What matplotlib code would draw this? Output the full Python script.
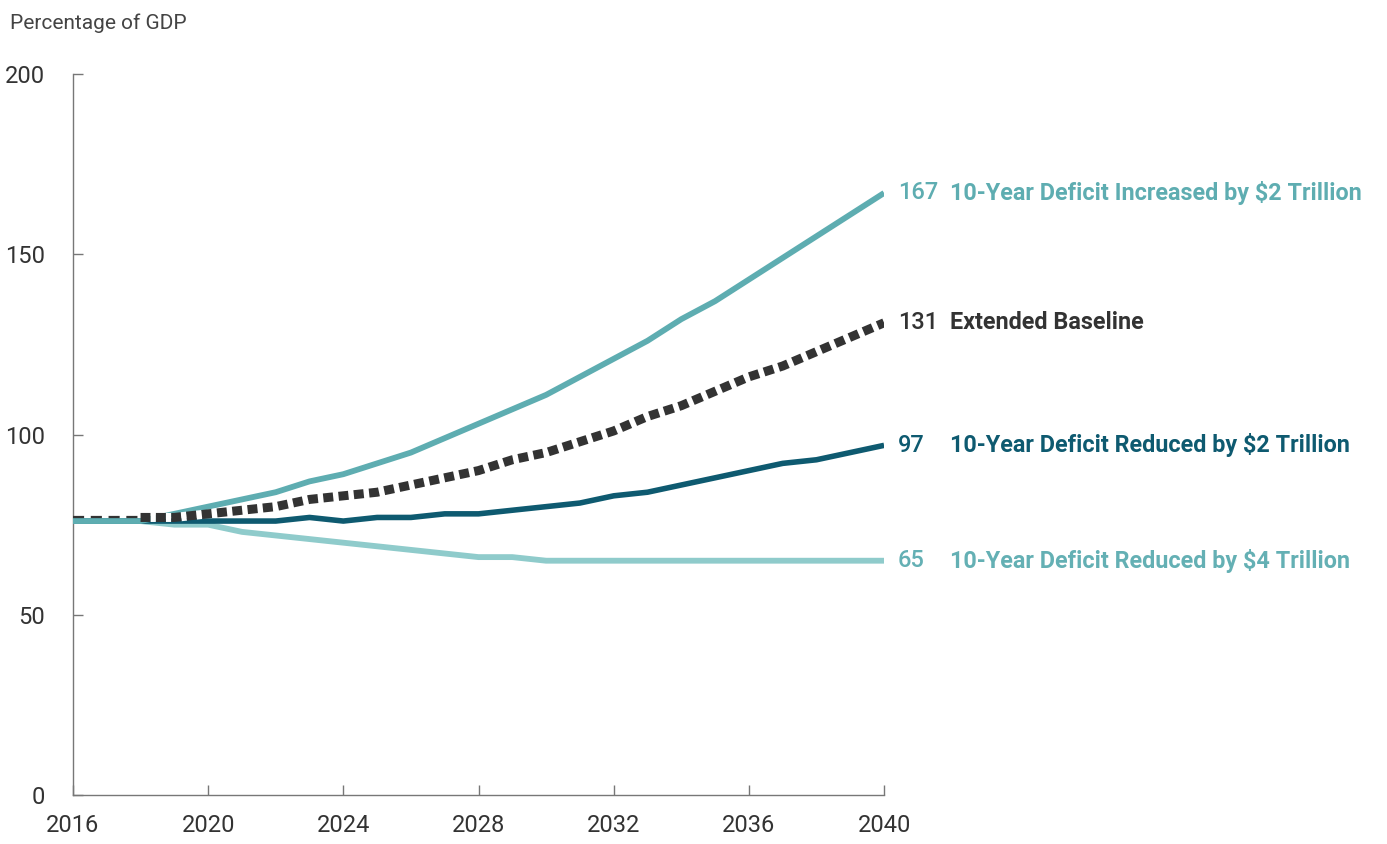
import matplotlib
matplotlib.use("Agg")
import matplotlib.pyplot as plt

plt.rcParams['font.family'] = ['Liberation Sans Narrow', 'Roboto', 'DejaVu Sans']

years = list(range(2016, 2041))

# debt held by the public, percentage of GDP
increased_2t = [76, 76, 76, 78, 80, 82, 84, 87, 89, 92, 95, 99, 103, 107, 111,
                116, 121, 126, 132, 137, 143, 149, 155, 161, 167]
baseline = [77, 77, 77, 77, 78, 79, 80, 82, 83, 84, 86, 88, 90, 93, 95,
            98, 101, 105, 108, 112, 116, 119, 123, 127, 131]
reduced_2t = [76, 76, 76, 76, 76, 76, 76, 77, 76, 77, 77, 78, 78, 79, 80,
              81, 83, 84, 86, 88, 90, 92, 93, 95, 97]
reduced_4t = [76, 76, 76, 75, 75, 73, 72, 71, 70, 69, 68, 67, 66, 66, 65,
              65, 65, 65, 65, 65, 65, 65, 65, 65, 65]

hist_end = 2  # index of 2018, last year of the thin dashed part

labels = ["10-Year Deficit Increased by $2 Trillion", "Extended Baseline",
          "10-Year Deficit Reduced by $2 Trillion", "10-Year Deficit Reduced by $4 Trillion"]

c_inc = "#5eadb1"
c_base = "#333333"
c_red2 = "#0e5a70"
c_red4 = "#8fcbcb"
c_red4_txt = "#64b0b4"

fig = plt.figure(figsize=(13.87, 8.44), dpi=100)
ax = fig.add_axes([0.0526, 0.058, 0.5848, 0.8543])

ax.plot(years, reduced_4t, color=c_red4, lw=4.2, solid_capstyle='butt', zorder=2)
ax.plot(years, reduced_2t, color=c_red2, lw=4.0, solid_capstyle='butt', zorder=3)
ax.plot(years, increased_2t, color=c_inc, lw=4.2, solid_capstyle='butt', zorder=4)
ax.plot(years[:hist_end + 1], baseline[:hist_end + 1], color=c_base, lw=1.6,
        dashes=(5, 3), zorder=5)
ax.plot(years[hist_end:], baseline[hist_end:], color=c_base, lw=6.5,
        dashes=(1.1, 0.6), gapcolor='white', dash_capstyle='butt', zorder=5)

ax.set_xlim(2016, 2040)
ax.set_ylim(0, 200)
ax.set_xticks(range(2016, 2041, 4))
ax.set_yticks(range(0, 201, 50))

for s in ['top', 'right']:
    ax.spines[s].set_visible(False)
for s in ['left', 'bottom']:
    ax.spines[s].set_color("#777777")
    ax.spines[s].set_linewidth(1.0)

ax.tick_params(axis='both', direction='in', length=7, width=1.0, color="#777777",
               labelsize=17, labelcolor="#333333")
ax.tick_params(axis='x', pad=14)
ax.tick_params(axis='y', pad=20)

fig.text(0.007, 0.972, "Percentage of GDP", fontsize=15, color="#444444",
         va='center', ha='left')

series = [(increased_2t, c_inc), (baseline, c_base),
          (reduced_2t, c_red2), (reduced_4t, c_red4_txt)]
for (vals, tcol), name in zip(series, labels):
    ax.annotate(str(vals[-1]), xy=(years[-1], vals[-1]), xytext=(10, 0),
                textcoords='offset points', va='center', ha='left',
                fontsize=17, fontweight='medium', color=tcol, annotation_clip=False)
    ax.annotate(name, xy=(years[-1], vals[-1]), xytext=(47.5, 0),
                textcoords='offset points', va='center', ha='left',
                fontsize=16.8, fontweight='bold', color=tcol, annotation_clip=False)

fig.savefig("out.png", dpi=100)
